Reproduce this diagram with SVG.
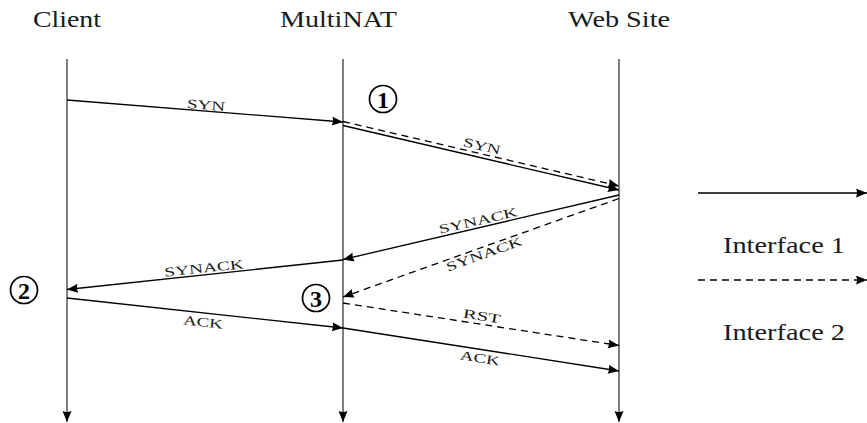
<svg xmlns="http://www.w3.org/2000/svg" width="867" height="423" viewBox="0 0 867 423">
<style>
.hdr{font-family:"Liberation Serif","Times New Roman",serif;font-size:24px;fill:#1a1a1a}
.lbl{font-family:"Liberation Serif","Times New Roman",serif;font-size:13px;fill:#1a1a1a;text-anchor:middle}
.life{stroke:#3a3a3a;stroke-width:1.3;fill:none}
.msg{stroke:#000;stroke-width:1.3;fill:none}
.dash{stroke-dasharray:7 5}
.num{font-family:"Liberation Serif","Times New Roman",serif;font-size:24px;font-weight:bold;text-anchor:middle;fill:#000}
.circ{fill:none;stroke:#000;stroke-width:1.7}
</style>
<defs>
<marker id="ah" markerUnits="userSpaceOnUse" markerWidth="14" markerHeight="12" refX="11" refY="4.5" orient="auto">
<path d="M0,0 L11,4.5 L0,9 Q2,4.5 0,0 z" fill="#000"/>
</marker>
</defs>
<g id="client">
<text class="hdr" x="33" y="27" textLength="68" lengthAdjust="spacingAndGlyphs">Client</text>
<line class="life" x1="67" y1="59" x2="67" y2="422" marker-end="url(#ah)"/>
</g>
<g id="multinat">
<text class="hdr" x="280" y="27" textLength="117" lengthAdjust="spacingAndGlyphs">MultiNAT</text>
<line class="life" x1="343" y1="59" x2="343" y2="422" marker-end="url(#ah)"/>
</g>
<g id="website">
<text class="hdr" x="568" y="27" textLength="102" lengthAdjust="spacingAndGlyphs">Web Site</text>
<line class="life" x1="619" y1="59" x2="619" y2="422" marker-end="url(#ah)"/>
</g>
<g id="connectors">
<line class="msg" x1="67" y1="100" x2="343" y2="122" marker-end="url(#ah)"/>
<line class="msg dash" x1="343" y1="121.5" x2="619" y2="186" marker-end="url(#ah)"/>
<line class="msg" x1="343" y1="125.5" x2="619" y2="190" marker-end="url(#ah)"/>
<line class="msg" x1="619" y1="195" x2="343" y2="259.5" marker-end="url(#ah)"/>
<line class="msg dash" x1="619" y1="198.5" x2="343" y2="297" marker-end="url(#ah)"/>
<line class="msg" x1="343" y1="260" x2="67" y2="289.5" marker-end="url(#ah)"/>
<line class="msg" x1="67" y1="298" x2="343" y2="328" marker-end="url(#ah)"/>
<line class="msg dash" x1="343" y1="303" x2="619" y2="345.5" marker-end="url(#ah)"/>
<line class="msg" x1="343" y1="328" x2="619" y2="371" marker-end="url(#ah)"/>
</g>
<g id="labels">
<text class="lbl" transform="translate(206,105) rotate(4.56)" y="4.5" textLength="38" lengthAdjust="spacingAndGlyphs">SYN</text>
<text class="lbl" transform="translate(482,146) rotate(13.1)" y="4.5" textLength="38" lengthAdjust="spacingAndGlyphs">SYN</text>
<text class="lbl" transform="translate(478,220.5) rotate(-12.9)" y="4.5" textLength="80" lengthAdjust="spacingAndGlyphs">SYNACK</text>
<text class="lbl" transform="translate(484,254) rotate(-19.8)" y="4.5" textLength="80" lengthAdjust="spacingAndGlyphs">SYNACK</text>
<text class="lbl" transform="translate(204,268) rotate(-6)" y="4.5" textLength="80" lengthAdjust="spacingAndGlyphs">SYNACK</text>
<text class="lbl" transform="translate(203,322) rotate(6.2)" y="4.5" textLength="40" lengthAdjust="spacingAndGlyphs">ACK</text>
<text class="lbl" transform="translate(482,316) rotate(8.7)" y="4.5" textLength="38" lengthAdjust="spacingAndGlyphs">RST</text>
<text class="lbl" transform="translate(480,358) rotate(8.9)" y="4.5" textLength="40" lengthAdjust="spacingAndGlyphs">ACK</text>
</g>
<g id="mark1">
<circle class="circ" cx="383" cy="99" r="13.5"/>
<text class="num" x="383" y="107.5">1</text>
</g>
<g id="mark2">
<circle class="circ" cx="24" cy="290" r="13.5"/>
<text class="num" x="24" y="298.5">2</text>
</g>
<g id="mark3">
<circle class="circ" cx="316" cy="298" r="13.5"/>
<text class="num" x="316" y="306.5">3</text>
</g>
<g id="legend1">
<line class="msg" x1="698" y1="193" x2="867" y2="193" marker-end="url(#ah)"/>
<text class="hdr" x="723" y="253" textLength="122" lengthAdjust="spacingAndGlyphs">Interface 1</text>
</g>
<g id="legend2">
<line class="msg dash" x1="698" y1="280" x2="867" y2="280" marker-end="url(#ah)"/>
<text class="hdr" x="723" y="340" textLength="122" lengthAdjust="spacingAndGlyphs">Interface 2</text>
</g>
</svg>
